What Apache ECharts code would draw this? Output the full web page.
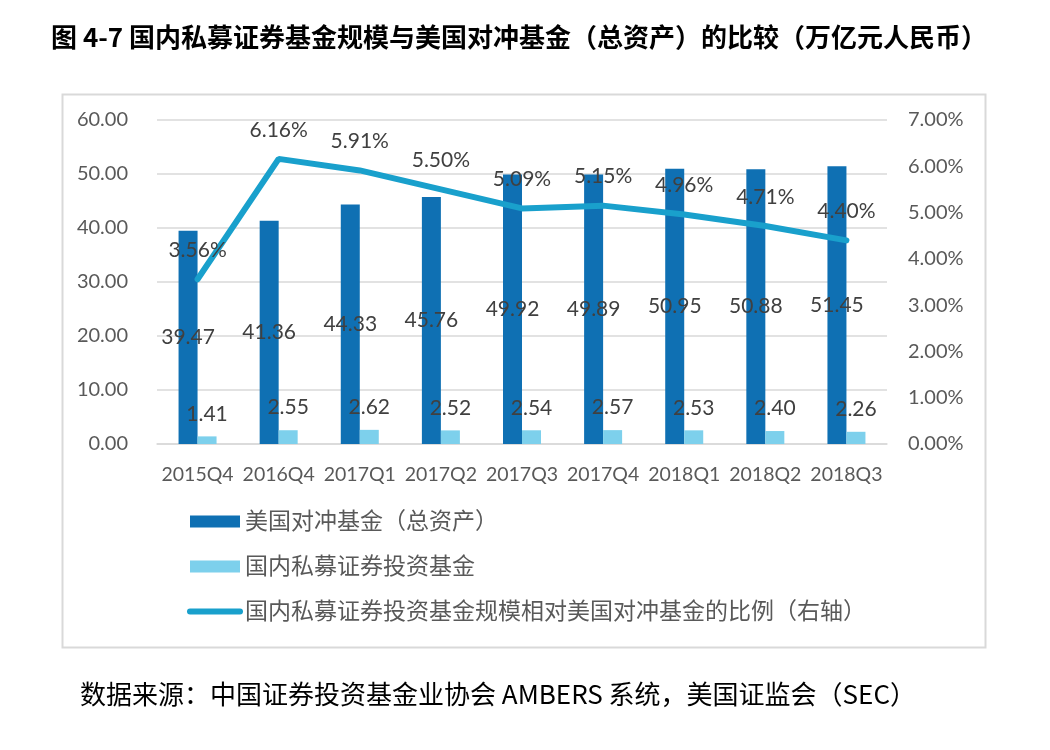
<!DOCTYPE html>
<html><head><meta charset="utf-8">
<script src="https://cdn.jsdelivr.net/npm/echarts@6/dist/echarts.min.js"></script>
<style>html,body{margin:0;padding:0;background:#fff}#c{width:1050px;height:750px}</style>
</head><body><div id="c"></div>
<script>
const categories = ['2015Q4','2016Q4','2017Q1','2017Q2','2017Q3','2017Q4','2018Q1','2018Q2','2018Q3'];
const usHedge = [39.47, 41.36, 44.33, 45.76, 49.92, 49.89, 50.95, 50.88, 51.45];
const cnPrivate = [1.41, 2.55, 2.62, 2.52, 2.54, 2.57, 2.53, 2.40, 2.26];
const ratio = [3.56, 6.16, 5.91, 5.50, 5.09, 5.15, 4.96, 4.71, 4.40];
const seriesNames = ['美国对冲基金（总资产）','国内私募证券投资基金','国内私募证券投资基金规模相对美国对冲基金的比例（右轴）'];
const titleText = '图 4-7 国内私募证券基金规模与美国对冲基金（总资产）的比较（万亿元人民币）';
const sourceText = '数据来源：中国证券投资基金业协会 AMBERS 系统，美国证监会（SEC）';

const FF = 'Lato, "Noto Sans CJK SC", sans-serif';
const chart = echarts.init(document.getElementById('c'), null, {renderer:'canvas'});
chart.setOption({
  animation:false,
  backgroundColor:'#fff',
  title:{text:titleText,left:46,top:19,textStyle:{fontFamily:'"Noto Sans CJK SC", sans-serif',fontSize:26,fontWeight:'bold',color:'#000'}},
  graphic:[
    {type:'rect',left:60,top:92,shape:{width:923,height:553},style:{fill:'none',stroke:'#d9d9d9',lineWidth:2},z:-10},
    {type:'text',left:80,top:681,style:{text:sourceText,font:'26px "Noto Sans CJK SC", sans-serif',fill:'#000'}}
  ],
  grid:{left:157,right:163,top:120,bottom:306},
  legend:{orient:'vertical',left:187,top:510,padding:0,itemWidth:50,itemHeight:12,itemGap:22,
    textStyle:{fontFamily:FF,fontSize:23,color:'#595959'},
    lineStyle:{width:6,cap:'round'},
    data:[{name:seriesNames[0],icon:'rect'},{name:seriesNames[1],icon:'rect'},{name:seriesNames[2],itemStyle:{opacity:0}}]},
  xAxis:{type:'category',data:categories,
    axisLine:{lineStyle:{color:'#d9d9d9',width:1.5}},axisTick:{show:false},
    axisLabel:{interval:0,margin:21,fontFamily:FF,fontSize:19.5,color:'#595959'}},
  yAxis:[
    {type:'value',min:0,max:60,interval:10,
     axisLabel:{margin:29,fontFamily:FF,fontSize:20,color:'#595959',formatter:v=>v.toFixed(2)},
     splitLine:{lineStyle:{color:'#d9d9d9',width:1.5}},axisLine:{show:false},axisTick:{show:false}},
    {type:'value',min:0,max:7,interval:1,position:'right',
     axisLabel:{margin:21,fontFamily:FF,fontSize:20,color:'#595959',formatter:v=>v.toFixed(2)+'%'},
     splitLine:{show:false},axisLine:{show:false},axisTick:{show:false}}
  ],
  series:[
    {name:seriesNames[0],type:'bar',data:usHedge,barWidth:19,barGap:'0%',
     itemStyle:{color:'#0f70b3'},
     label:{show:true,position:'inside',fontFamily:FF,fontSize:21,color:'#404040',formatter:p=>p.value.toFixed(2)}},
    {name:seriesNames[1],type:'bar',data:cnPrivate,barWidth:19,barGap:'0%',
     itemStyle:{color:'#7dd0ec'},
     label:{show:true,position:'top',distance:12,fontFamily:FF,fontSize:21,color:'#404040',formatter:p=>p.value.toFixed(2)}},
    {name:seriesNames[2],type:'line',yAxisIndex:1,data:ratio,symbol:'circle',symbolSize:1,showSymbol:true,
     lineStyle:{color:'#19a0cc',width:6,cap:'round'},itemStyle:{color:'#19a0cc',opacity:0},
     label:{show:true,position:'top',distance:18,fontFamily:FF,fontSize:21,color:'#404040',opacity:1,formatter:p=>p.value.toFixed(2)+'%'}}
  ]
});
</script></body></html>
